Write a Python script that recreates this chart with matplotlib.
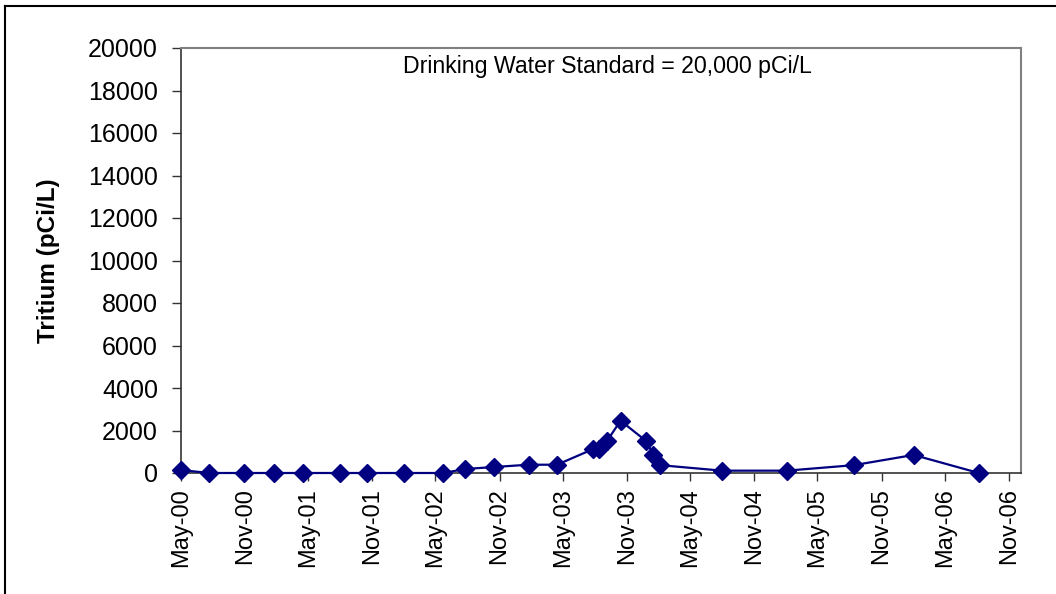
import matplotlib
matplotlib.use('Agg')
import matplotlib.pyplot as plt
import matplotlib.dates as mdates
from matplotlib.lines import Line2D
import pandas as pd

plt.rcParams['font.family'] = ['Liberation Sans', 'DejaVu Sans']

# sample dates and tritium results (pCi/L)
dates = ['2000-05-01', '2000-07-21', '2000-10-30', '2001-01-24', '2001-04-17',
         '2001-07-31', '2001-10-16', '2002-01-31', '2002-05-23', '2002-07-26',
         '2002-10-15', '2003-01-23', '2003-04-15', '2003-07-28', '2003-08-12',
         '2003-09-05', '2003-10-14', '2003-12-27', '2004-01-16', '2004-02-04',
         '2004-07-31', '2005-02-02', '2005-08-14', '2006-02-01', '2006-08-07']
tritium = [140, 0, 0, 0, 0,
           0, 0, 0, 0, 190,
           280, 390, 390, 1130, 1110,
           1500, 2460, 1500, 860, 370,
           110, 110, 370, 850, 0]

tick_dates = pd.date_range('2000-05-01', '2006-11-01', freq='6MS')
y_ticks = list(range(0, 20001, 2000))
note = 'Drinking Water Standard = 20,000 pCi/L'

x = pd.to_datetime(dates)

fig = plt.figure(figsize=(10.56, 5.94), dpi=100)
ax = fig.add_axes([181 / 1056, 1 - 473 / 594, (1021 - 181) / 1056, (473 - 48) / 594])

ax.plot(x, tritium, color='#000080', lw=1.6, marker='D', ms=9,
        markerfacecolor='#000080', markeredgecolor='#000080', clip_on=False, zorder=3)

ax.set_xlim(pd.Timestamp('2000-05-01'), pd.Timestamp('2006-12-06'))
ax.set_ylim(0, 20000)
ax.set_yticks(y_ticks)
ax.set_yticklabels([str(v) for v in y_ticks])
ax.set_xticks(tick_dates)
ax.xaxis.set_major_formatter(mdates.DateFormatter('%b-%y'))

ax.tick_params(axis='y', direction='out', length=6.5, width=1, color='#333333',
               labelsize=18, pad=10)
ax.tick_params(axis='x', direction='out', length=6, width=1, color='#333333',
               labelsize=17, labelrotation=90, pad=5)

for s in ['top', 'right']:
    ax.spines[s].set_color('#808080')
    ax.spines[s].set_linewidth(1.5)
for s in ['left', 'bottom']:
    ax.spines[s].set_color('#333333')
    ax.spines[s].set_linewidth(1.2)

ax.set_ylabel('Tritium (pCi/L)', fontsize=17.5, fontweight='bold', labelpad=20)

ax.text(0.508, 0.957, note, transform=ax.transAxes, ha='center', va='center',
        fontsize=16.7)

# outer chart frame (cropped on right and bottom)
fig.add_artist(Line2D([5 / 1056, 5 / 1056], [0, 1 - 6 / 594], color='black', lw=1.5))
fig.add_artist(Line2D([5 / 1056, 1], [1 - 6 / 594, 1 - 6 / 594], color='black', lw=1.5))

fig.savefig('out.png', dpi=100)
